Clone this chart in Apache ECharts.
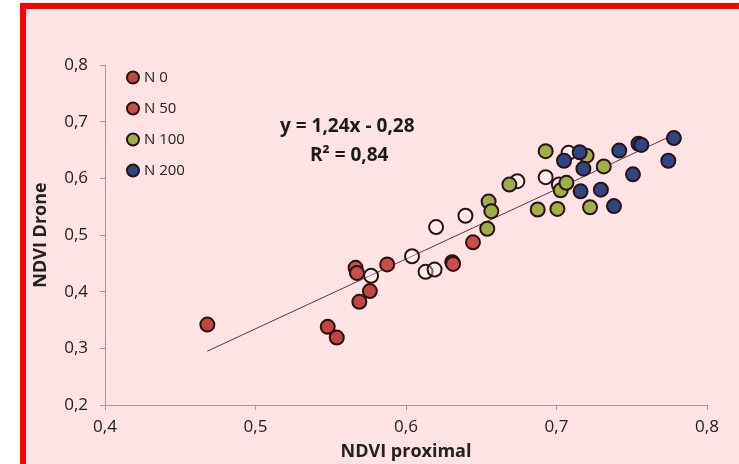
<!DOCTYPE html>
<html lang="en">
<head>
    <meta charset="UTF-8">
    <title>NDVI Drone vs proximal</title>
    <script src="https://cdn.jsdelivr.net/npm/echarts/dist/echarts.min.js"></script>
    <style>
        html, body { margin: 0; padding: 0; background: #ffffff; }
        #frame {
            position: absolute; left: 20px; top: 3px; width: 730px; height: 455px;
            border: 6px solid #ff0000; background: #fde3e3;
        }
        #chart { position: absolute; left: 0; top: 0; width: 739px; height: 464px; }
    </style>
</head>
<body>
    <div id="frame"></div>
    <div id="chart"></div>
    <script>
        // [NDVI proximal, NDVI drone]
        const n0 = [[0.468, 0.342], [0.548, 0.338], [0.554, 0.319], [0.569, 0.382], [0.576, 0.401]];
        const n50 = [[0.5665, 0.442], [0.5674, 0.433], [0.5875, 0.448], [0.6307, 0.452], [0.6313, 0.449], [0.6445, 0.487]];
        const n100 = [[0.6549, 0.559], [0.6567, 0.542], [0.654, 0.511], [0.6687, 0.589], [0.6875, 0.545],
            [0.6928, 0.648], [0.7006, 0.546], [0.7028, 0.579], [0.7066, 0.592], [0.720, 0.640],
            [0.7223, 0.549], [0.7314, 0.621]];
        const n200 = [[0.705, 0.631], [0.7154, 0.646], [0.7179, 0.617], [0.716, 0.577], [0.7295, 0.580],
            [0.7382, 0.551], [0.7417, 0.649], [0.7508, 0.607], [0.7545, 0.661], [0.7564, 0.659],
            [0.7743, 0.631], [0.778, 0.671]];
        const openPts = [[0.5768, 0.428], [0.604, 0.4625], [0.613, 0.435], [0.619, 0.439], [0.620, 0.514],
            [0.6395, 0.534], [0.674, 0.595], [0.6928, 0.602], [0.7016, 0.589], [0.708, 0.645]];
        const trend = [[0.468, 0.295], [0.778, 0.677]];

        const font = '"Open Sans", sans-serif';
        const fmt = v => v.toFixed(1).replace('.', ',');

        const chart = echarts.init(document.getElementById('chart'));

        function dots(name, data, color) {
            return {
                name: name, type: 'scatter', data: data,
                symbolSize: 14,
                itemStyle: { color: color, borderColor: '#2a1212', borderWidth: 2, opacity: 1 }
            };
        }

        const options = {
            animation: false,
            backgroundColor: 'transparent',
            textStyle: { fontFamily: font },
            grid: { left: 105, right: 32, top: 65, bottom: 59, outerBoundsMode: 'none' },
            legend: {
                data: ['N 0', 'N 50', 'N 100', 'N 200'],
                orient: 'vertical', left: 121, top: 65,
                itemWidth: 12, itemHeight: 12, itemGap: 16,
                icon: 'circle',
                textStyle: { fontSize: 15, color: '#222', fontFamily: font }
            },
            xAxis: {
                type: 'value', min: 0.4, max: 0.8, interval: 0.1,
                name: 'NDVI proximal', nameLocation: 'middle', nameGap: 38,
                nameTextStyle: { fontSize: 18, fontWeight: 'bold', color: '#222', fontFamily: font },
                axisLine: { lineStyle: { color: '#a89898' } },
                axisTick: { show: true, inside: false, length: 5, lineStyle: { color: '#a89898' } },
                axisLabel: { fontSize: 17, color: '#222', margin: 14, formatter: fmt },
                splitLine: { show: false }
            },
            yAxis: {
                type: 'value', min: 0.2, max: 0.8, interval: 0.1,
                name: 'NDVI Drone', nameLocation: 'middle', nameGap: 55, nameRotate: 90,
                nameTextStyle: { fontSize: 18, fontWeight: 'bold', color: '#222', fontFamily: font },
                axisLine: { show: true, lineStyle: { color: '#a89898' } },
                axisTick: { show: true, inside: false, length: 5, lineStyle: { color: '#a89898' } },
                axisLabel: { fontSize: 17, color: '#222', margin: 17, formatter: fmt },
                splitLine: { show: false }
            },
            graphic: [
                {
                    type: 'text', left: 280, top: 117,
                    style: { text: 'y = 1,24x - 0,28', font: 'bold 19px ' + font, fill: '#1a1a1a' }
                },
                {
                    type: 'text', left: 310, top: 146,
                    style: { text: 'R² = 0,84', font: 'bold 19px ' + font, fill: '#1a1a1a' }
                }
            ],
            series: [
                {
                    name: 'trend', type: 'line', data: trend, symbol: 'none',
                    lineStyle: { color: '#5a3c3c', width: 1 }, z: 1
                },
                dots('open', openPts, 'rgba(255,255,255,0.35)'),
                dots('N 0', n0, '#c04543'),
                dots('N 50', n50, '#c94e4b'),
                dots('N 100', n100, '#9fae48'),
                dots('N 200', n200, '#2f4585')
            ]
        };

        chart.setOption(options);
    </script>
</body>
</html>
